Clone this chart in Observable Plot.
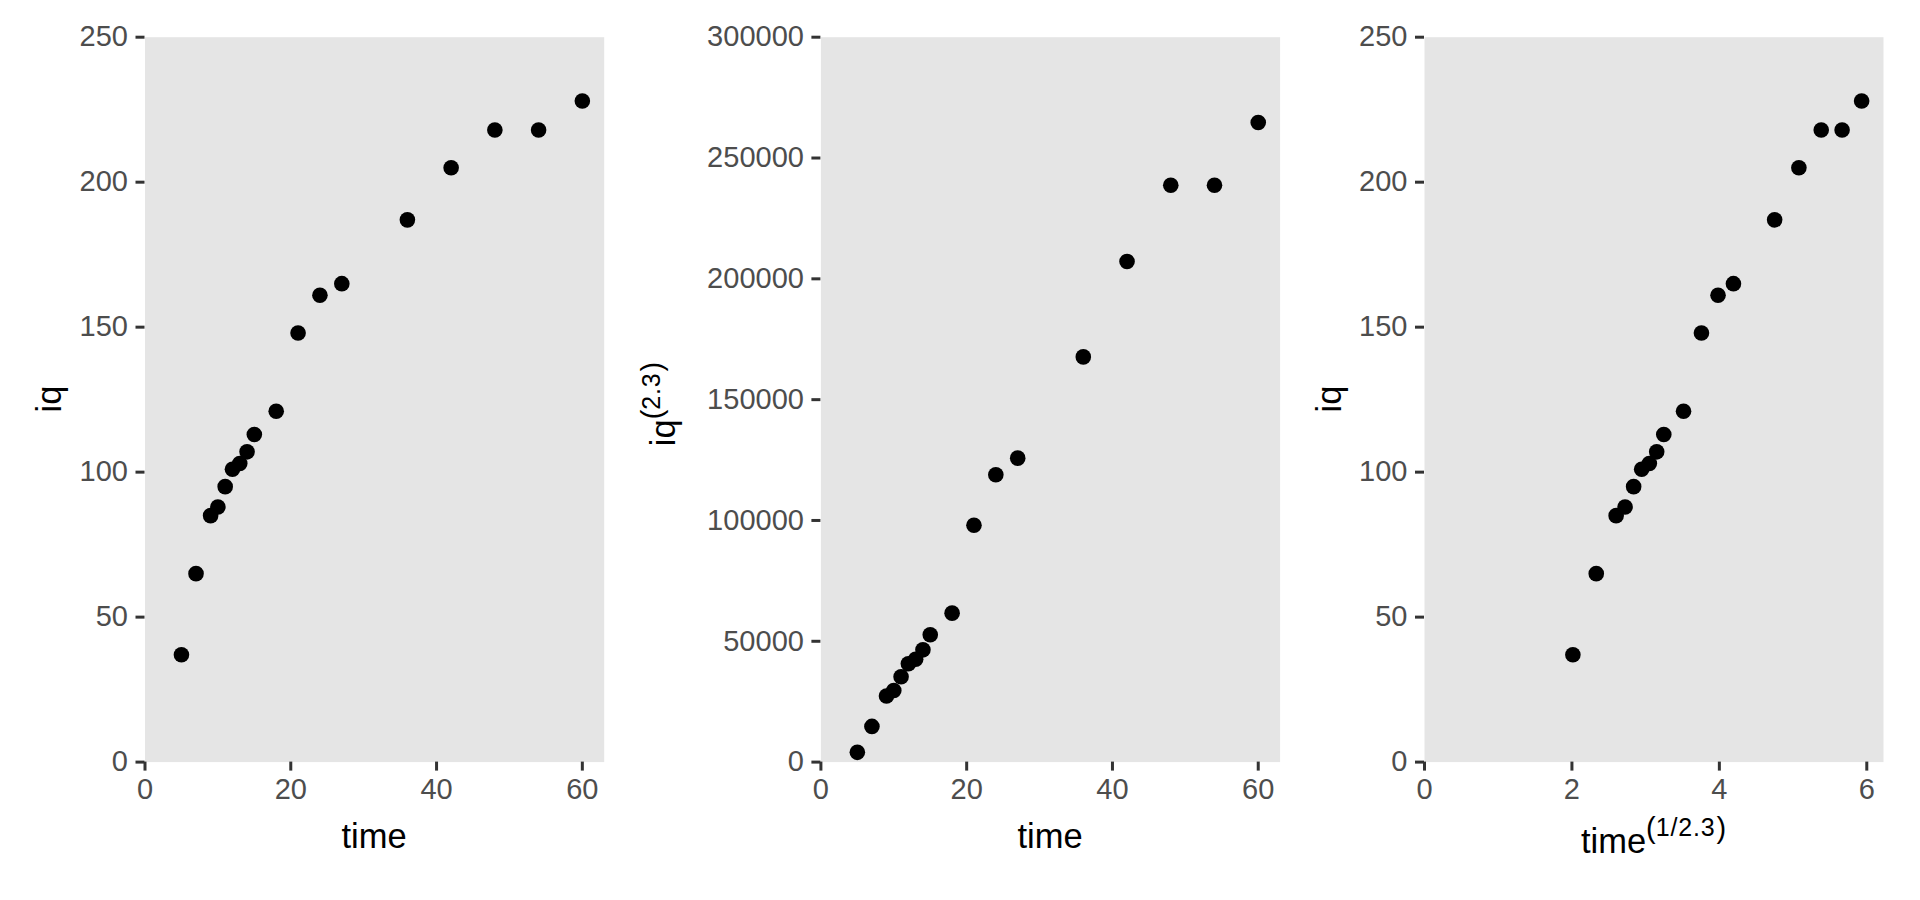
<!DOCTYPE html>
<html>
<head>
<meta charset="utf-8">
<script src="https://cdn.jsdelivr.net/npm/d3@7"></script>
<script src="https://cdn.jsdelivr.net/npm/@observablehq/plot@0.6"></script>
<style>
  html, body { margin: 0; padding: 0; background: #ffffff; }
  #wrap { position: relative; width: 1920px; height: 900px; overflow: hidden; font-family: "Liberation Sans", Arial, sans-serif; }
  #wrap svg { position: absolute; top: 0; overflow: visible; }
</style>
</head>
<body>
<div id="wrap"></div>
<script>
// ---- data ----
const time = [5, 7, 9, 10, 11, 12, 13, 14, 15, 18, 21, 24, 27, 36, 42, 48, 54, 60];
const iq = [37, 65, 85, 88, 95, 101, 103, 107, 113, 121, 148, 161, 165, 187, 205, 218, 218, 228];
// panel 2: iq^(2.3) as plotted
const iqPow = [4044, 14765, 27370, 29640, 35330, 40690, 42570, 46460, 52680, 61650, 97990, 118900, 125800, 167700, 207200, 238700, 238700, 264700];
// panel 3: time^(1/2.3) as plotted
const timeRoot = [2.013, 2.330, 2.600, 2.721, 2.837, 2.946, 3.050, 3.150, 3.246, 3.514, 3.757, 3.982, 4.191, 4.750, 5.079, 5.382, 5.665, 5.930];

const xTicksTime = [0, 20, 40, 60];
const yTicksIq = [0, 50, 100, 150, 200, 250];
const yTicksPow = [0, 50000, 100000, 150000, 200000, 250000, 300000];
const xTicksRoot = [0, 2, 4, 6];

const rows = time.map((t, i) => ({time: t, iq: iq[i], iqPow: iqPow[i], timeRoot: timeRoot[i]}));

// ---- styling / layout ----
const FONT = "Liberation Sans, Arial, Helvetica, sans-serif";
const TICK_FS = 29;
const TITLE_FS = 34.5;
const SUP_FS = 25;
const PAREN_FS = 29;
const BG = "#E5E5E5";
const H = 900, MT = 36.7, MB = 900 - 761.6;

const wrap = document.getElementById("wrap");

function panel({left, width, ml, mr, xKey, yKey, xDomain, yDomain, xTicks, yTicks}) {
  const svg = Plot.plot({
    width, height: H,
    marginLeft: ml, marginRight: mr, marginTop: MT, marginBottom: MB,
    style: {fontFamily: FONT, fontSize: TICK_FS + "px", background: "transparent", overflow: "visible"},
    x: {domain: xDomain},
    y: {domain: yDomain},
    marks: [
      Plot.frame({fill: BG, stroke: null}),
      Plot.axisX({ticks: xTicks, tickSize: 9, tickPadding: 7, strokeWidth: 3, stroke: "#333333", fill: "#4D4D4D", fontSize: TICK_FS, label: null, tickFormat: d => String(d)}),
      Plot.axisY({ticks: yTicks, tickSize: 9, tickPadding: 8, strokeWidth: 3, stroke: "#333333", fill: "#4D4D4D", fontSize: TICK_FS, label: null, tickFormat: d => String(d)}),
      Plot.dot(rows, {x: xKey, y: yKey, r: 7.8, fill: "black", stroke: null})
    ]
  });
  svg.style.left = left + "px";
  wrap.appendChild(svg);
  return d3.select(svg);
}

// superscript group "(content)" with taller parentheses
function addSup(t, content, raise) {
  t.append("tspan").attr("font-size", PAREN_FS).attr("dy", -raise).text("(");
  t.append("tspan").attr("font-size", SUP_FS).attr("dy", -2).attr("letter-spacing", 0.8).text(content);
  t.append("tspan").attr("font-size", PAREN_FS).attr("dy", 2).attr("dx", 1).text(")");
}

// Panel 1
const p1 = panel({left: 0, width: 640, ml: 144.5, mr: 36.3, xKey: "time", yKey: "iq",
  xDomain: [0, 63], yDomain: [0, 250], xTicks: xTicksTime, yTicks: yTicksIq});
p1.append("text").attr("x", 374).attr("y", 848).attr("text-anchor", "middle")
  .attr("font-family", FONT).attr("font-size", TITLE_FS).attr("fill", "black").text("time");
p1.append("text").attr("transform", "translate(61,399) rotate(-90)").attr("text-anchor", "middle")
  .attr("font-family", FONT).attr("font-size", TITLE_FS).attr("fill", "black").text("iq");

// Panel 2
const p2 = panel({left: 640, width: 645, ml: 180.4, mr: 5.4, xKey: "time", yKey: "iqPow",
  xDomain: [0, 63], yDomain: [0, 300000], xTicks: xTicksTime, yTicks: yTicksPow});
p2.append("text").attr("x", 410).attr("y", 848).attr("text-anchor", "middle")
  .attr("font-family", FONT).attr("font-size", TITLE_FS).attr("fill", "black").text("time");
{
  const t = p2.append("text").attr("transform", "translate(34.5,404) rotate(-90)").attr("text-anchor", "middle")
    .attr("font-family", FONT).attr("font-size", TITLE_FS).attr("fill", "black");
  t.append("tspan").text("iq");
  addSup(t, "2.3", 13);
}

// Panel 3
const p3 = panel({left: 1280, width: 640, ml: 144, mr: 37, xKey: "timeRoot", yKey: "iq",
  xDomain: [0, 6.2267], yDomain: [0, 250], xTicks: xTicksRoot, yTicks: yTicksIq});
{
  const t = p3.append("text").attr("x", 373.5).attr("y", 853).attr("text-anchor", "middle")
    .attr("font-family", FONT).attr("font-size", TITLE_FS).attr("fill", "black");
  t.append("tspan").text("time");
  addSup(t, "1/2.3", 15);
}
p3.append("text").attr("transform", "translate(61,399) rotate(-90)").attr("text-anchor", "middle")
  .attr("font-family", FONT).attr("font-size", TITLE_FS).attr("fill", "black").text("iq");
</script>
</body>
</html>
